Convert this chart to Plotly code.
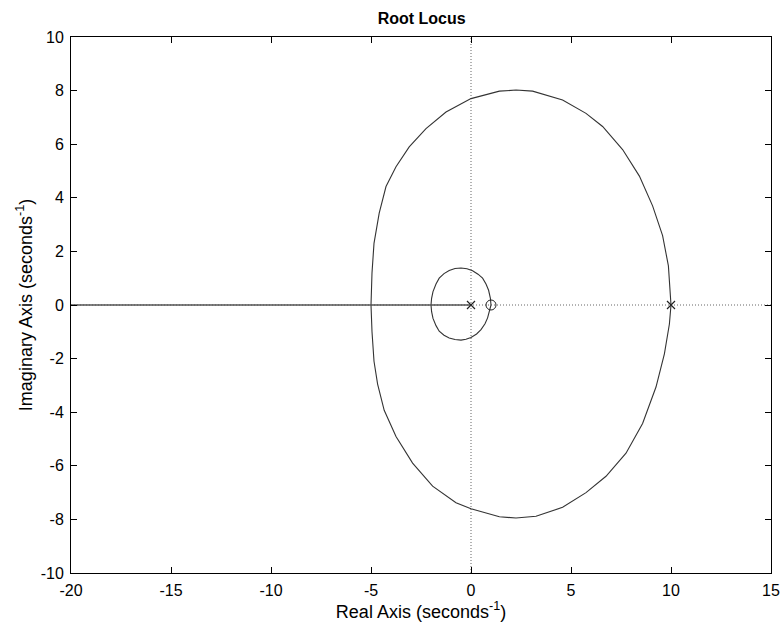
import plotly.graph_objects as go

# Root locus branches (real, imaginary)
big_upper_re = [-5.0, -4.95, -4.85, -4.79, -4.59, -4.25, -3.75, -3.09, -2.25, -1.25, 0.0, 1.42, 2.25, 3.08, 4.58, 5.75, 6.58, 7.58, 8.42, 9.08, 9.58, 9.87, 10.0]
big_upper_im = [0.0, 1.2, 2.3, 2.6, 3.43, 4.42, 5.16, 5.9, 6.58, 7.2, 7.7, 7.98, 8.02, 7.98, 7.65, 7.15, 6.66, 5.8, 4.81, 3.7, 2.59, 1.46, 0.0]
big_lower_re = [-5.0, -4.95, -4.85, -4.75, -4.67, -4.34, -3.75, -2.92, -1.92, -0.75, 0.0, 1.42, 2.25, 3.25, 4.58, 5.75, 6.75, 7.75, 8.58, 9.25, 9.67, 9.92, 10.0]
big_lower_im = [0.0, -1.0, -2.1, -2.5, -2.95, -3.93, -4.91, -5.9, -6.76, -7.38, -7.6, -7.9, -7.95, -7.88, -7.55, -7.0, -6.39, -5.53, -4.42, -3.06, -1.82, -0.71, 0.0]

small_upper_re = [-2.0, -1.97, -1.9, -1.75, -1.59, -1.35, -1.09, -0.8, -0.5, -0.2, 0.08, 0.35, 0.58, 0.75, 0.88, 0.97, 1.0]
small_upper_im = [0.0, 0.25, 0.5, 0.78, 1.0, 1.17, 1.29, 1.36, 1.38, 1.35, 1.28, 1.15, 1.0, 0.78, 0.55, 0.25, 0.0]
small_lower_re = [-2.0, -1.97, -1.9, -1.75, -1.59, -1.35, -1.09, -0.8, -0.5, -0.25, 0.0, 0.28, 0.5, 0.7, 0.83, 0.95, 1.0]
small_lower_im = [0.0, -0.25, -0.5, -0.77, -0.98, -1.13, -1.23, -1.29, -1.31, -1.28, -1.21, -1.08, -0.92, -0.7, -0.48, -0.2, 0.0]

real_branch_re = [-20.0, 0.0]
real_branch_im = [0.0, 0.0]

poles_re = [0.0, 10.0]
poles_im = [0.0, 0.0]
zeros_re = [1.0]
zeros_im = [0.0]

x_ticks = [-20, -15, -10, -5, 0, 5, 10, 15]
y_ticks = [-10, -8, -6, -4, -2, 0, 2, 4, 6, 8, 10]

LINE = "#333333"
FONT = "Liberation Sans, Arial, Helvetica, sans-serif"

fig = go.Figure()

for xs, ys in [(big_upper_re, big_upper_im), (big_lower_re, big_lower_im),
               (small_upper_re, small_upper_im), (small_lower_re, small_lower_im)]:
    fig.add_trace(go.Scatter(x=xs, y=ys, mode="lines", line=dict(color=LINE, width=1.1),
                             hoverinfo="skip", showlegend=False))

fig.add_trace(go.Scatter(x=real_branch_re, y=real_branch_im, mode="lines",
                         line=dict(color="#555555", width=1.5), showlegend=False))

fig.add_trace(go.Scatter(x=poles_re, y=poles_im, mode="markers",
                         marker=dict(symbol="x-thin", size=8, color="#222222",
                                     line=dict(color="#222222", width=1.2)),
                         showlegend=False))
fig.add_trace(go.Scatter(x=zeros_re, y=zeros_im, mode="markers",
                         marker=dict(symbol="circle-open", size=10, color="#222222",
                                     line=dict(color="#222222", width=1)),
                         showlegend=False))

# dotted reference lines through origin
fig.add_shape(type="line", xref="paper", yref="y", x0=0, x1=1, y0=0, y1=0,
              line=dict(color="#666666", width=1, dash="1px,2px"), layer="below")
fig.add_shape(type="line", xref="x", yref="paper", x0=0, x1=0, y0=0, y1=1,
              line=dict(color="#666666", width=1, dash="1px,2px"), layer="below")

axis_common = dict(showgrid=False, zeroline=False, showline=True, linecolor="black", linewidth=1,
                   mirror="ticks", ticks="inside", ticklen=6, tickcolor="black",
                   automargin=False,
                   tickfont=dict(family=FONT, size=16, color="black"))

fig.update_layout(
    width=783, height=631,
    margin=dict(l=71, r=12, t=37, b=58),
    plot_bgcolor="white", paper_bgcolor="white",
    title=dict(text="<b>Root Locus</b>", x=0.5385, xanchor="center", y=0.98, yanchor="top",
               font=dict(family=FONT, size=16, color="black")),
    xaxis=dict(range=[-20, 15], tickvals=x_ticks, ticktext=[str(v) for v in x_ticks],
               ticklabelstandoff=3,
               title=dict(text="Real Axis (seconds<sup>-1</sup>)", standoff=4,
                          font=dict(family=FONT, size=18, color="black")),
               **axis_common),
    yaxis=dict(range=[-10, 10], tickvals=y_ticks, ticktext=[str(v) for v in y_ticks],
               ticklabelstandoff=3,
               title=dict(text="Imaginary Axis (seconds<sup>-1</sup>)", standoff=3,
                          font=dict(family=FONT, size=18, color="black")),
               **axis_common),
)

fig.write_html("out.html", config={"displayModeBar": False},
               post_script="document.body.style.margin='0';")
